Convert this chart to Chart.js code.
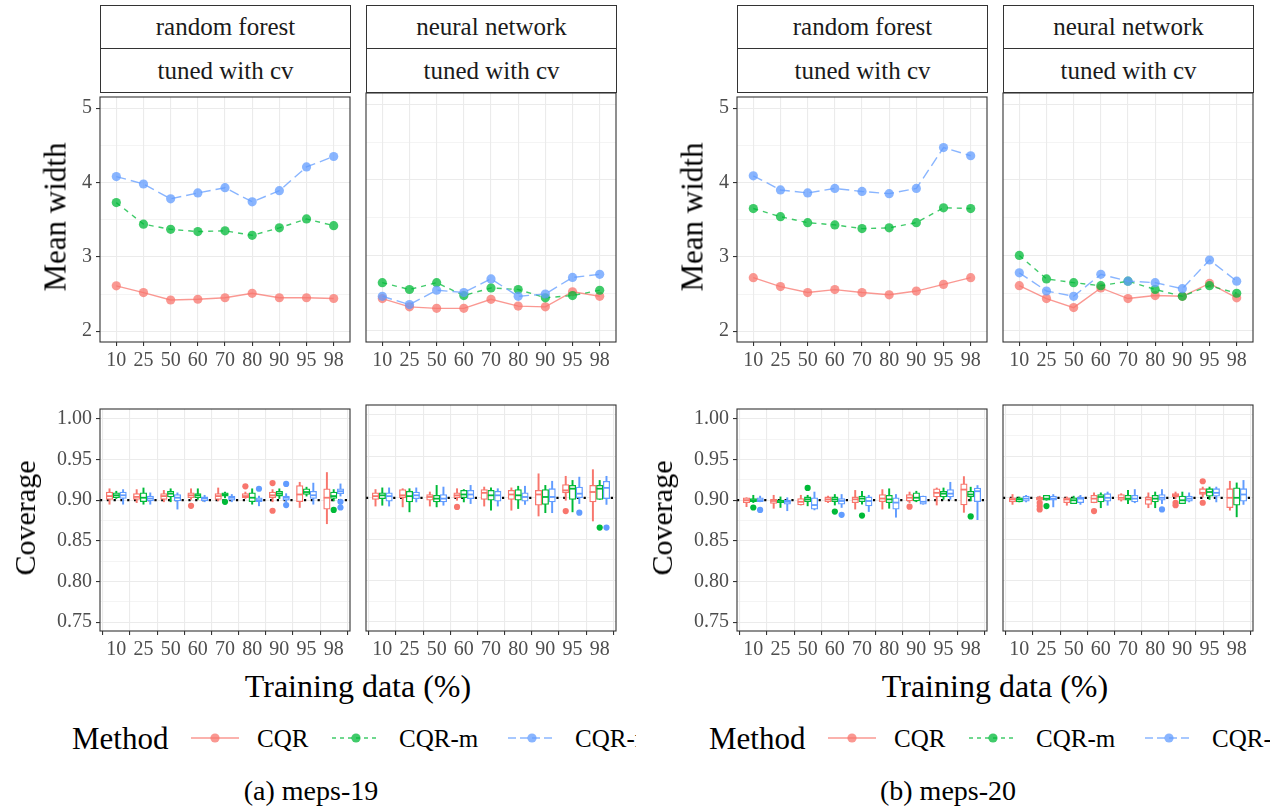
<!DOCTYPE html>
<html>
<head>
<meta charset="utf-8">
<script src="https://cdn.jsdelivr.net/npm/chart.js@4"></script>
<style>
  body { margin: 0; background: #fff; width: 1286px; height: 807px; overflow: hidden; font-family: "Liberation Serif", "DejaVu Serif", serif; }
  .panel { position: absolute; top: 0; height: 807px; overflow: hidden; }
  .strip { position: absolute; border: 1px solid #333; box-sizing: border-box; background: #fff;
           color: #1a1a1a; font-size: 25px; display: flex; align-items: center; justify-content: center; }
  .lbl { position: absolute; white-space: nowrap; color: #000; line-height: 1; }
  canvas { position: absolute; }
</style>
</head>
<body>
<div id="pa" class="panel" style="left:0;width:636px"></div>
<div id="pb" class="panel" style="left:637px;width:633px"></div>
<script>
// categories / methods
const trainPct = ['10', '25', '50', '60', '70', '80', '90', '95', '98'];
const methods = ['CQR', 'CQR-m', 'CQR-r'];
const hue = ['#F8766D', '#00BA38', '#619CFF'];
const hueA = ['rgba(248,118,109,0.75)', 'rgba(0,186,56,0.75)', 'rgba(97,156,255,0.75)'];
const dashes = [[], [5, 5], [10, 5]];

// mean width (top row)
const a_rf_CQR  = [2.61, 2.52, 2.42, 2.43, 2.45, 2.51, 2.45, 2.45, 2.44];
const a_rf_CQRm = [3.73, 3.44, 3.37, 3.34, 3.35, 3.29, 3.39, 3.51, 3.42];
const a_rf_CQRr = [4.08, 3.98, 3.78, 3.86, 3.93, 3.74, 3.89, 4.21, 4.35];
const a_nn_CQR  = [2.43, 2.32, 2.30, 2.30, 2.42, 2.33, 2.32, 2.52, 2.46];
const a_nn_CQRm = [2.64, 2.55, 2.64, 2.47, 2.57, 2.55, 2.44, 2.47, 2.54];
const a_nn_CQRr = [2.46, 2.35, 2.54, 2.51, 2.69, 2.46, 2.49, 2.71, 2.75];
const b_rf_CQR  = [2.72, 2.60, 2.52, 2.56, 2.52, 2.49, 2.54, 2.63, 2.72];
const b_rf_CQRm = [3.65, 3.54, 3.46, 3.43, 3.38, 3.39, 3.46, 3.66, 3.65];
const b_rf_CQRr = [4.09, 3.90, 3.86, 3.92, 3.88, 3.85, 3.92, 4.47, 4.36];
const b_nn_CQR  = [2.60, 2.43, 2.31, 2.57, 2.43, 2.47, 2.46, 2.63, 2.44];
const b_nn_CQRm = [3.00, 2.69, 2.64, 2.60, 2.66, 2.55, 2.46, 2.60, 2.50];
const b_nn_CQRr = [2.77, 2.53, 2.46, 2.75, 2.66, 2.64, 2.56, 2.94, 2.66];

// coverage boxplots (bottom row): [lower whisker, q1, median, q3, upper whisker]
const a_rf_covCQR = [[0.895,0.901,0.905,0.910,0.914],[0.897,0.901,0.904,0.908,0.913],[0.898,0.901,0.905,0.908,0.912],[0.901,0.903,0.906,0.909,0.914],[0.899,0.901,0.905,0.908,0.915],[0.902,0.903,0.905,0.908,0.910],[0.898,0.903,0.906,0.910,0.913],[0.891,0.898,0.907,0.918,0.922],[0.871,0.889,0.903,0.914,0.934]];
const a_rf_covCQRm = [[0.902,0.903,0.906,0.909,0.911],[0.895,0.898,0.903,0.909,0.915],[0.898,0.904,0.908,0.911,0.914],[0.901,0.903,0.906,0.908,0.914],[0.903,0.905,0.907,0.909,0.910],[0.895,0.898,0.903,0.909,0.914],[0.902,0.905,0.908,0.911,0.914],[0.905,0.907,0.910,0.914,0.916],[0.899,0.902,0.905,0.910,0.913]];
const a_rf_covCQRr = [[0.895,0.902,0.906,0.910,0.913],[0.895,0.899,0.902,0.905,0.909],[0.889,0.899,0.903,0.907,0.909],[0.898,0.899,0.902,0.904,0.906],[0.898,0.900,0.903,0.905,0.907],[0.893,0.898,0.900,0.903,0.905],[0.898,0.900,0.903,0.905,0.908],[0.895,0.902,0.906,0.911,0.921],[0.905,0.908,0.911,0.914,0.920]];
const a_nn_covCQR = [[0.890,0.898,0.902,0.906,0.910],[0.889,0.900,0.903,0.910,0.911],[0.890,0.897,0.901,0.904,0.907],[0.897,0.900,0.903,0.906,0.911],[0.890,0.898,0.906,0.910,0.913],[0.885,0.898,0.904,0.909,0.912],[0.878,0.891,0.904,0.909,0.929],[0.897,0.906,0.909,0.916,0.926],[0.872,0.895,0.907,0.915,0.934]];
const a_nn_covCQRm = [[0.891,0.899,0.903,0.906,0.912],[0.883,0.895,0.902,0.908,0.911],[0.889,0.895,0.899,0.903,0.915],[0.895,0.900,0.904,0.909,0.910],[0.885,0.897,0.903,0.909,0.912],[0.887,0.897,0.903,0.910,0.914],[0.882,0.892,0.901,0.910,0.915],[0.883,0.898,0.911,0.915,0.921],[0.898,0.898,0.911,0.915,0.921]];
const a_nn_covCQRr = [[0.890,0.896,0.902,0.906,0.912],[0.895,0.899,0.903,0.907,0.912],[0.891,0.895,0.899,0.904,0.913],[0.893,0.899,0.904,0.909,0.915],[0.890,0.896,0.903,0.908,0.911],[0.892,0.896,0.901,0.906,0.914],[0.882,0.895,0.901,0.911,0.920],[0.893,0.900,0.905,0.913,0.925],[0.892,0.899,0.912,0.920,0.926]];
const b_rf_covCQR = [[0.892,0.897,0.900,0.903,0.903],[0.890,0.896,0.899,0.901,0.906],[0.894,0.894,0.898,0.902,0.906],[0.897,0.898,0.901,0.904,0.905],[0.889,0.897,0.901,0.904,0.912],[0.889,0.898,0.902,0.907,0.913],[0.897,0.899,0.903,0.907,0.910],[0.894,0.904,0.909,0.914,0.915],[0.885,0.894,0.913,0.920,0.929]];
const b_rf_covCQRm = [[0.897,0.898,0.900,0.902,0.906],[0.891,0.897,0.899,0.900,0.904],[0.893,0.898,0.901,0.904,0.906],[0.894,0.898,0.901,0.904,0.907],[0.895,0.898,0.902,0.905,0.911],[0.890,0.897,0.901,0.906,0.914],[0.898,0.899,0.903,0.909,0.911],[0.901,0.904,0.908,0.911,0.915],[0.899,0.904,0.907,0.911,0.916]];
const b_rf_covCQRr = [[0.898,0.898,0.900,0.903,0.905],[0.887,0.895,0.898,0.900,0.903],[0.888,0.889,0.894,0.903,0.910],[0.891,0.895,0.899,0.902,0.907],[0.886,0.893,0.899,0.904,0.906],[0.879,0.889,0.897,0.903,0.907],[0.895,0.895,0.898,0.905,0.905],[0.901,0.904,0.908,0.913,0.922],[0.876,0.898,0.911,0.915,0.918]];
const b_nn_covCQR = [[0.892,0.895,0.898,0.900,0.904],[0.897,0.897,0.899,0.901,0.902],[0.891,0.894,0.898,0.900,0.901],[0.894,0.894,0.899,0.903,0.906],[0.896,0.897,0.900,0.904,0.905],[0.888,0.892,0.898,0.901,0.906],[0.899,0.901,0.903,0.905,0.907],[0.901,0.904,0.906,0.911,0.913],[0.885,0.888,0.900,0.911,0.920]];
const b_nn_covCQRm = [[0.895,0.895,0.898,0.900,0.901],[0.897,0.897,0.899,0.903,0.903],[0.893,0.893,0.897,0.900,0.902],[0.888,0.895,0.901,0.904,0.906],[0.893,0.897,0.899,0.903,0.909],[0.888,0.895,0.899,0.903,0.907],[0.893,0.893,0.897,0.902,0.907],[0.898,0.902,0.907,0.911,0.913],[0.877,0.891,0.900,0.912,0.918]];
const b_nn_covCQRr = [[0.895,0.896,0.899,0.902,0.903],[0.889,0.897,0.899,0.902,0.904],[0.892,0.894,0.899,0.901,0.903],[0.891,0.896,0.900,0.905,0.907],[0.894,0.895,0.899,0.903,0.910],[0.893,0.897,0.900,0.904,0.910],[0.895,0.896,0.899,0.902,0.906],[0.895,0.902,0.906,0.911,0.913],[0.892,0.896,0.904,0.911,0.921]];

// outliers: [category index, coverage]
const a_rf_outCQR  = [[3,0.893],[5,0.917],[6,0.921],[6,0.887]];
const a_rf_outCQRm = [[4,0.898],[8,0.888]];
const a_rf_outCQRr = [[5,0.914],[6,0.920],[6,0.894],[8,0.898],[8,0.891]];
const a_nn_outCQR  = [[3,0.889],[7,0.884]];
const a_nn_outCQRm = [[8,0.864]];
const a_nn_outCQRr = [[7,0.882],[8,0.864]];
const b_rf_outCQR  = [[6,0.892]];
const b_rf_outCQRm = [[0,0.891],[2,0.915],[3,0.886],[4,0.881],[8,0.880]];
const b_rf_outCQRr = [[0,0.888],[3,0.882]];
const b_nn_outCQR  = [[1,0.894],[1,0.890],[1,0.886],[3,0.884],[6,0.894],[6,0.891],[7,0.920],[7,0.894]];
const b_nn_outCQRm = [[1,0.890]];
const b_nn_outCQRr = [[5,0.886]];

const target = 0.9;
const widthTicks = [2, 2.5, 3, 3.5, 4, 4.5, 5];
const covTicks = [0.75, 0.775, 0.8, 0.825, 0.85, 0.875, 0.9, 0.925, 0.95, 0.975, 1.0];

const FAMILY = '"Liberation Serif", "DejaVu Serif", serif';
const tickFont = { family: FAMILY, size: 20 };
const X_MIN = -0.6, X_MAX = trainPct.length - 0.4;
const Y_W = 48, X_H = 34, PAD = 12;

const frame = {
  id: 'frame',
  afterDraw(c) {
    const a = c.chartArea, ctx = c.ctx;
    ctx.save();
    ctx.strokeStyle = '#333';
    ctx.lineWidth = 1.1;
    ctx.strokeRect(a.left, a.top, a.right - a.left, a.bottom - a.top);
    ctx.restore();
  }
};

function isMajor(v, step) {
  return Math.abs(v / step - Math.round(v / step)) < 1e-6;
}

function scalesFor(showY, ymin, ymax, yTicks, step, fmt) {
  return {
    x: {
      type: 'linear', min: X_MIN, max: X_MAX, offset: false,
      afterBuildTicks: s => { s.ticks = trainPct.map((_, i) => ({ value: i })); },
      afterFit: s => { s.height = X_H; },
      ticks: { callback: v => trainPct[v], font: tickFont, color: '#4D4D4D', padding: 3, maxRotation: 0, autoSkip: false },
      grid: { color: '#EBEBEB', lineWidth: 1.1, tickColor: '#333', tickLength: 4 },
      border: { display: false }
    },
    y: {
      type: 'linear', min: ymin, max: ymax,
      afterBuildTicks: s => { s.ticks = yTicks.map(v => ({ value: v })); },
      afterFit: s => { s.width = showY ? Y_W : 0; },
      ticks: { display: showY, autoSkip: false, font: tickFont, color: '#4D4D4D', padding: 4,
               callback: v => isMajor(v, step) ? fmt(v) : '' },
      grid: {
        color: '#EBEBEB',
        lineWidth: ctx => isMajor(ctx.tick.value, step) ? 1.1 : 0.55,
        tickColor: ctx => isMajor(ctx.tick.value, step) ? '#333' : 'rgba(0,0,0,0)',
        drawTicks: showY, tickLength: 4
      },
      border: { display: false }
    }
  };
}

function baseOptions(scales) {
  return {
    responsive: false, animation: false, events: [],
    layout: { padding: { top: PAD, right: PAD, left: PAD, bottom: 0 } },
    plugins: { legend: { display: false }, tooltip: { enabled: false } },
    scales: scales
  };
}

function addCanvas(parent, left, top, w, h) {
  const c = document.createElement('canvas');
  c.width = w; c.height = h;
  c.style.left = left + 'px'; c.style.top = top + 'px';
  c.style.width = w + 'px'; c.style.height = h + 'px';
  parent.appendChild(c);
  return c;
}

function facetCanvas(parent, plotX, plotY, plotW, plotH, showY) {
  const yw = showY ? Y_W : 0;
  return addCanvas(parent, plotX - yw - PAD, plotY - PAD, PAD + yw + plotW + PAD, PAD + plotH + X_H);
}

function widthChart(parent, plotX, plotY, plotW, plotH, series, showY) {
  const cv = facetCanvas(parent, plotX, plotY, plotW, plotH, showY);
  new Chart(cv, {
    type: 'line',
    data: {
      datasets: methods.map((m, k) => ({
        label: m,
        data: series[k].map((v, i) => ({ x: i, y: v })),
        borderColor: hueA[k], borderDash: dashes[k], borderWidth: 1.4,
        pointRadius: 4.6, pointBackgroundColor: hueA[k], pointBorderWidth: 0,
        tension: 0, order: 3 - k
      }))
    },
    options: baseOptions(scalesFor(showY, 1.855, 5.15, widthTicks, 1, v => String(v))),
    plugins: [frame]
  });
}

function coverageChart(parent, plotX, plotY, plotW, plotH, stats, outl, showY) {
  const cv = facetCanvas(parent, plotX, plotY, plotW, plotH, showY);
  const dodge = [-0.25, 0, 0.25];
  const ds = [{
    type: 'line', data: [{ x: X_MIN, y: target }, { x: X_MAX, y: target }],
    borderColor: '#000', borderDash: [2.2, 4.6], borderWidth: 2.2, pointRadius: 0, order: 6
  }];
  methods.forEach((m, k) => {
    const px = i => i + dodge[k];
    ds.push({ type: 'bar', label: m + ' whisker', grouped: false, order: 5,
      data: stats[k].map((s, i) => ({ x: px(i), y: [s[0], s[4]] })),
      backgroundColor: hue[k], barThickness: 1.3 });
    ds.push({ type: 'bar', label: m + ' box', grouped: false, order: 4,
      data: stats[k].map((s, i) => ({ x: px(i), y: [s[1], s[3]] })),
      backgroundColor: '#fff', borderColor: hue[k], borderWidth: 1.3, borderSkipped: false, barThickness: 6.5 });
    ds.push({ type: 'scatter', label: m + ' median', order: 3,
      data: stats[k].map((s, i) => ({ x: px(i), y: s[2] })),
      pointStyle: 'line', pointRadius: 3.2, pointBorderColor: hue[k], pointBorderWidth: 1.8, pointBackgroundColor: hue[k] });
    ds.push({ type: 'scatter', label: m + ' outlier', order: 2,
      data: outl[k].map(o => ({ x: px(o[0]), y: o[1] })),
      pointRadius: 3.1, pointBackgroundColor: hue[k], pointBorderWidth: 0 });
  });
  new Chart(cv, {
    type: 'scatter',
    data: { datasets: ds },
    options: baseOptions(scalesFor(showY, 0.7391, 1.0121, covTicks, 0.05, v => v.toFixed(2))),
    plugins: [frame]
  });
}

function text(parent, str, cx, cy, size, rot) {
  const d = document.createElement('div');
  d.className = 'lbl';
  d.textContent = str;
  d.style.fontSize = size + 'px';
  d.style.left = cx + 'px'; d.style.top = cy + 'px';
  d.style.transform = 'translate(-50%,-50%)' + (rot ? ' rotate(-90deg)' : '');
  parent.appendChild(d);
  return d;
}

function strip(parent, str, x, y, w, h) {
  const d = document.createElement('div');
  d.className = 'strip';
  d.textContent = str;
  d.style.left = x + 'px'; d.style.top = y + 'px';
  d.style.width = w + 'px'; d.style.height = h + 'px';
  parent.appendChild(d);
}

function legendKey(parent, k, cx, cy) {
  const ns = 'http://www.w3.org/2000/svg';
  const svg = document.createElementNS(ns, 'svg');
  svg.setAttribute('width', 48); svg.setAttribute('height', 16);
  svg.style.position = 'absolute';
  svg.style.left = (cx - 24) + 'px'; svg.style.top = (cy - 8) + 'px';
  const ln = document.createElementNS(ns, 'line');
  ln.setAttribute('x1', 0); ln.setAttribute('x2', 48); ln.setAttribute('y1', 8); ln.setAttribute('y2', 8);
  ln.setAttribute('stroke', hueA[k]); ln.setAttribute('stroke-width', 1.4);
  if (dashes[k].length) ln.setAttribute('stroke-dasharray', k === 1 ? '4 4' : '8 4');
  const pt = document.createElementNS(ns, 'circle');
  pt.setAttribute('cx', 24); pt.setAttribute('cy', 8); pt.setAttribute('r', 4.6);
  pt.setAttribute('fill', hueA[k]);
  svg.appendChild(ln); svg.appendChild(pt);
  parent.appendChild(svg);
}

function buildPanel(id, caption, width, cover, outl) {
  const p = document.getElementById(id);
  const fx = [100, 366], fw = 250;
  const facets = ['random forest', 'neural network'];
  facets.forEach((f, j) => {
    strip(p, f, fx[j], 5, fw + 1, 44);
    strip(p, 'tuned with cv', fx[j], 48, fw + 1, 45);
    widthChart(p, fx[j], 93, fw, 249, width[j], j === 0);
    coverageChart(p, fx[j], 405, fw, 226, cover[j], outl[j], j === 0);
  });
  text(p, 'Mean width', 55, 217, 31, true);
  text(p, 'Coverage', 25, 518, 30, true);
  text(p, 'Training data (%)', 358, 686, 32, false);
  const ly = 738;
  const t = text(p, 'Method', 72, ly, 31, false);
  t.style.transform = 'translate(0,-50%)';
  const keyX = [215, 356, 532], labX = [257, 399, 575];
  methods.forEach((m, k) => {
    legendKey(p, k, keyX[k], ly);
    const l = text(p, m, labX[k], ly, 25, false);
    l.style.transform = 'translate(0,-50%)';
  });
  text(p, caption, 311, 791, 28, false);
}

buildPanel('pa', '(a) meps-19',
  [[a_rf_CQR, a_rf_CQRm, a_rf_CQRr], [a_nn_CQR, a_nn_CQRm, a_nn_CQRr]],
  [[a_rf_covCQR, a_rf_covCQRm, a_rf_covCQRr], [a_nn_covCQR, a_nn_covCQRm, a_nn_covCQRr]],
  [[a_rf_outCQR, a_rf_outCQRm, a_rf_outCQRr], [a_nn_outCQR, a_nn_outCQRm, a_nn_outCQRr]]);
buildPanel('pb', '(b) meps-20',
  [[b_rf_CQR, b_rf_CQRm, b_rf_CQRr], [b_nn_CQR, b_nn_CQRm, b_nn_CQRr]],
  [[b_rf_covCQR, b_rf_covCQRm, b_rf_covCQRr], [b_nn_covCQR, b_nn_covCQRm, b_nn_covCQRr]],
  [[b_rf_outCQR, b_rf_outCQRm, b_rf_outCQRr], [b_nn_outCQR, b_nn_outCQRm, b_nn_outCQRr]]);
</script>
</body>
</html>
